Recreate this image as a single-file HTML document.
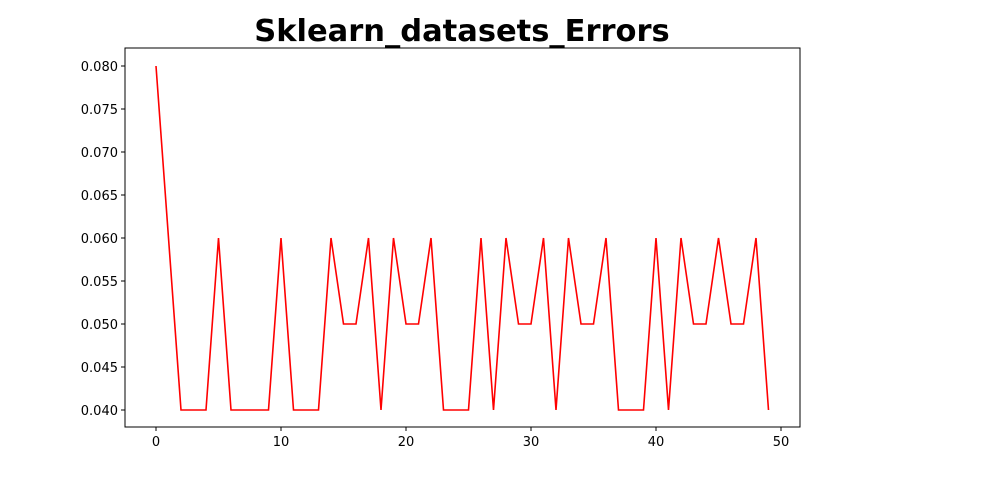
<!DOCTYPE html>
<html><head><meta charset="utf-8"><style>
body{margin:0;background:#fff;}
svg{display:block;font-family:"DejaVu Sans","Liberation Sans",sans-serif;}
</style></head><body>
<svg id="chart" width="1000" height="480">
<text x="462" y="41" text-anchor="middle" font-size="30.5" font-weight="bold">Sklearn_datasets_Errors</text>
<g id="axes"></g>
</svg>
<script>
const values=[0.08,0.06,0.04,0.04,0.04,0.06,0.04,0.04,0.04,0.04,0.06,0.04,0.04,0.04,0.06,0.05,0.05,0.06,0.04,0.06,0.05,0.05,0.06,0.04,0.04,0.04,0.06,0.04,0.06,0.05,0.05,0.06,0.04,0.06,0.05,0.05,0.06,0.04,0.04,0.04,0.06,0.04,0.06,0.05,0.05,0.06,0.05,0.05,0.06,0.04];
const xTicks=[0,10,20,30,40,50];
const yTicks=[0.040,0.045,0.050,0.055,0.060,0.065,0.070,0.075,0.080];
const NS="http://www.w3.org/2000/svg";
const L=125,R=800,T=48,B=427;
function xs(v){return 156+v*12.5;}
function ys(v){return 410-(v-0.04)*8600;}
const g=document.getElementById('axes');
function mk(tag,attrs){const e=document.createElementNS(NS,tag);for(const k in attrs)e.setAttribute(k,attrs[k]);g.appendChild(e);return e;}
const pts=values.map((v,i)=>xs(i)+','+ys(v)).join(' ');
const line=mk('polyline',{points:pts,fill:'none',stroke:'#ff0000','stroke-width':1.6});


const frame=mk('rect',{x:L,y:T,width:R-L,height:B-T,fill:'none',stroke:'#000','stroke-width':1});


xTicks.forEach(t=>{
  const x=xs(t);
  const tk=mk('line',{x1:x,x2:x,y1:B,y2:B+4,stroke:'#000'});
  
  
  const tx=mk('text',{x:x,y:B+19,'text-anchor':'middle','font-size':13});
  tx.textContent=t;
  
  
});
yTicks.forEach(t=>{
  const y=ys(t);
  const tk=mk('line',{x1:L-4,x2:L,y1:y,y2:y,stroke:'#000'});
  
  
  const tx=mk('text',{x:L-7,y:y+5,'text-anchor':'end','font-size':13});
  tx.textContent=t.toFixed(3);
  
  
});
</script>
</body></html>
